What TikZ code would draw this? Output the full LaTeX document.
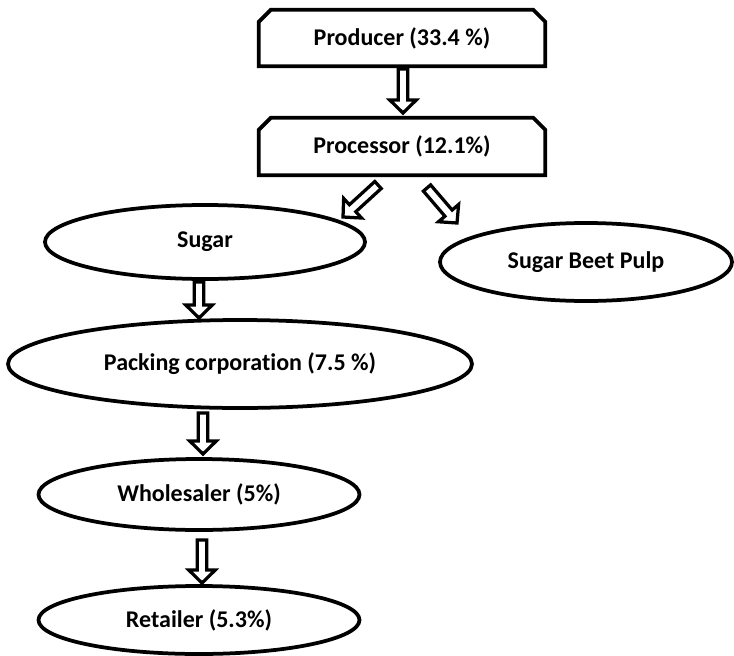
\documentclass[tikz,border=0pt]{standalone}
\usepackage{fontspec}
\setmainfont{Carlito}[Ligatures=NoCommon]
\usetikzlibrary{calc,shapes.geometric}
\newcommand\blockarr[2]{%
  \coordinate (bq) at ($(#2)!13pt!(#1)$);
  \draw[blkarrow] ($(#1)!4.75pt!90:(#2)$) -- ($(bq)!4.75pt!90:(#2)$) -- ($(bq)!13.25pt!90:(#2)$) -- (#2) -- ($(bq)!13.25pt!-90:(#2)$) -- ($(bq)!4.75pt!-90:(#2)$) -- ($(#1)!4.75pt!-90:(#2)$) -- cycle;}
\begin{document}
\begin{tikzpicture}[x=1pt,y=-1pt,
  every node/.style={font=\fontsize{24}{28}\selectfont\bfseries},
  snipbox/.style={minimum width=286pt,minimum height=56pt,inner sep=0pt},
  outline/.style={line width=3.75pt,draw=black},
  oval/.style={ellipse,draw=black,line width=3.75pt,fill=white,inner sep=0pt},
  blkarrow/.style={draw=black,fill=white,line width=3.25pt}]
\useasboundingbox (0,0) rectangle (734,656);
\fill[white] (0,0) rectangle (734,656);
% boxes
\node[snipbox] (prod) at (402,38) {Producer (33.4 \%)};
\node[snipbox,minimum height=57pt] (proc) at (402,146.5) {Processor (12.1\%)};
\foreach \n in {prod,proc}{
  \draw[outline] (\n.south west) -- ([yshift=-12pt]\n.north west) -- ([xshift=12pt]\n.north west)
    -- ([xshift=-12pt]\n.north east) -- ([yshift=-12pt]\n.north east) -- (\n.south east) -- cycle;}
% ellipses
\node[oval,minimum width=320pt,minimum height=74pt] (sugar) at (205,242) {Sugar};
\node[oval,minimum width=292pt,minimum height=78pt] (pulp) at (586,262) {Sugar Beet Pulp};
\node[oval,minimum width=464pt,minimum height=88pt] (pack) at (240,364) {Packing corporation (7.5 \%)};
\node[oval,minimum width=321pt,minimum height=71pt] (whole) at (199,494.5) {Wholesaler (5\%)};
\node[oval,minimum width=321pt,minimum height=68pt] (ret) at (199,620) {Retailer (5.3\%)};
% arrow end points
\coordinate (a1s) at (403,69);  \coordinate (a1e) at (403,113);
\coordinate (a2s) at (378,185); \coordinate (a2e) at (343,217);
\coordinate (a3s) at (427,188); \coordinate (a3e) at (457,223);
\coordinate (a4s) at (199,282); \coordinate (a4e) at (199,318);
\coordinate (a5s) at (203,413); \coordinate (a5e) at (203,454);
\coordinate (a6s) at (202,540); \coordinate (a6e) at (202,583);
\blockarr{a1s}{a1e}
\blockarr{a2s}{a2e}
\blockarr{a3s}{a3e}
\blockarr{a4s}{a4e}
\blockarr{a5s}{a5e}
\blockarr{a6s}{a6e}
\end{tikzpicture}
\end{document}
